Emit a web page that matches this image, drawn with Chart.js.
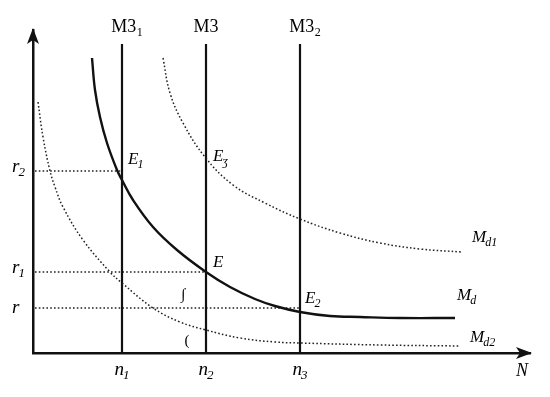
<!DOCTYPE html>
<html><head><meta charset="utf-8">
<script src="https://cdn.jsdelivr.net/npm/chart.js@4/dist/chart.umd.min.js"></script>
<style>html,body{margin:0;padding:0;background:#fff}canvas{display:block}</style>
</head><body>
<canvas id="c" width="550" height="397"></canvas>
<script>
// ---- data (diagram units) ----
const nValues = [8.9, 17.3, 26.7];            // n1, n2, n3
const nLabels = [['n','1'], ['n','2'], ['n','3']];
const rValues = [4.5, 8.1, 18.2];             // r, r1, r2
const rEnds   = [26.7, 17.3, 8.9];            // each rate line runs to its supply line
const rLabels = [['r',''], ['r','1'], ['r','2']];
const supplyTop = 30.9;
const supplyLabels = [['M3','1'], ['M3',''], ['M3','2']];

const mdX  = [5.9, 6.2, 6.7, 7.4, 8.4, 8.9, 10.0, 12.0, 14.4, 17.3, 19.7, 22.2, 24.2, 26.7, 29.7, 32.7, 36.7, 42.2];
const mdY  = [29.5, 26.3, 23.6, 21.0, 18.3, 17.3, 15.3, 12.6, 10.3, 8.1, 6.6, 5.4, 4.7, 4.1, 3.7, 3.6, 3.5, 3.5];
const md1X = [13.0, 13.7, 15.0, 17.2, 20.0, 23.2, 26.7, 30.7, 34.7, 38.7, 42.9];
const md1Y = [29.5, 26.0, 23.0, 19.6, 16.8, 15.0, 13.4, 12.0, 11.0, 10.4, 10.1];
const md2X = [0.5, 1.0, 1.7, 2.2, 3.0, 5.0, 7.7, 8.9, 12.0, 14.7, 17.3, 20.7, 24.2, 26.7, 34.7, 42.7];
const md2Y = [25.1, 21.6, 18.2, 16.6, 14.6, 11.3, 8.1, 7.0, 4.5, 3.1, 2.3, 1.5, 1.1, 1.0, 0.8, 0.7];
const curveLabels = [['M','d1'], ['M','d'], ['M','d2']];

const eqX = [8.9, 17.3, 26.7, 17.3];
const eqY = [17.3, 8.1, 4.1, 19.6];
const eqLabels = [['E','1'], ['E',''], ['E','2'], ['E','\u0292']];
const axisLabelX = 'N';

const xMax = 49.7, yMax = 32.3;

// ---- datasets ----
const pts = (xs, ys) => xs.map((x, i) => ({x, y: ys[i]}));
const datasets = [];
const DOT = [1.6, 2.2];
datasets.push({data: pts(mdX, mdY), borderColor: '#111', borderWidth: 2.4, tension: 0.4});
datasets.push({data: pts(md1X, md1Y), borderColor: '#222', borderWidth: 1.5, borderDash: DOT, tension: 0.4});
datasets.push({data: pts(md2X, md2Y), borderColor: '#222', borderWidth: 1.5, borderDash: DOT, tension: 0.4});
nValues.forEach(n => datasets.push({data: [{x: n, y: 0}, {x: n, y: supplyTop}], borderColor: '#111', borderWidth: 2.2, tension: 0}));
rValues.forEach((r, i) => datasets.push({data: [{x: 0.2, y: r}, {x: rEnds[i], y: r}], borderColor: '#222', borderWidth: 1.5, borderDash: DOT, tension: 0}));
datasets.forEach(d => { d.showLine = true; d.pointRadius = 0; d.fill = false; });

// ---- plugin: arrows + labels ----
const SERIF = '"Liberation Serif", "DejaVu Serif", serif';
function drawSub(ctx, base, sub, x, y, size, italic, align) {
  const f1 = (italic ? 'italic ' : '') + size + 'px ' + SERIF;
  const f2 = (italic ? 'italic ' : '') + Math.round(size * 0.68) + 'px ' + SERIF;
  const gap = italic ? -1 : 0.5;
  ctx.font = f1; const w1 = ctx.measureText(base).width;
  ctx.font = f2; const w2 = sub ? ctx.measureText(sub).width : 0;
  const w = w1 + (sub ? w2 + gap : 0);
  let sx = x;
  if (align === 'center') sx = x - w / 2; else if (align === 'right') sx = x - w;
  ctx.textAlign = 'left'; ctx.textBaseline = 'middle'; ctx.fillStyle = '#000';
  ctx.font = f1; ctx.fillText(base, sx, y);
  if (sub) { ctx.font = f2; ctx.fillText(sub, sx + w1 + gap, y + size * 0.3); }
}
const decor = {
  id: 'decor',
  afterDatasetsDraw(chart) {
    const {ctx, chartArea: a, scales: {x, y}} = chart;
    ctx.save();
    ctx.fillStyle = '#111';
    // x arrow
    ctx.beginPath();
    ctx.moveTo(a.right + 2, a.bottom);
    ctx.lineTo(a.right - 14, a.bottom - 6);
    ctx.lineTo(a.right - 10, a.bottom);
    ctx.lineTo(a.right - 14, a.bottom + 6);
    ctx.closePath(); ctx.fill();
    // y arrow
    ctx.beginPath();
    ctx.moveTo(a.left, a.top - 2);
    ctx.lineTo(a.left - 6, a.top + 14);
    ctx.lineTo(a.left, a.top + 10);
    ctx.lineTo(a.left + 6, a.top + 14);
    ctx.closePath(); ctx.fill();
    // x tick labels
    nValues.forEach((n, i) => drawSub(ctx, nLabels[i][0], nLabels[i][1], x.getPixelForValue(n), a.bottom + 17, 19, true, 'center'));
    // y tick labels
    rValues.forEach((r, i) => drawSub(ctx, rLabels[i][0], rLabels[i][1], a.left - 21, y.getPixelForValue(r) - (rLabels[i][1] ? 4 : 0), 19, true, 'left'));
    // supply labels
    nValues.forEach((n, i) => drawSub(ctx, supplyLabels[i][0], supplyLabels[i][1], x.getPixelForValue(n) + (supplyLabels[i][1] ? 5 : 0), y.getPixelForValue(supplyTop) - 17, 18, false, 'center'));
    // equilibrium labels
    const eqOff = [[6, -20], [7, -9], [5, -13], [7, 0]];
    eqX.forEach((ex, i) => drawSub(ctx, eqLabels[i][0], eqLabels[i][1], x.getPixelForValue(ex) + eqOff[i][0], y.getPixelForValue(eqY[i]) + eqOff[i][1], 17, true, 'left'));
    // curve labels
    const ends = [[md1X, md1Y], [mdX, mdY], [md2X, md2Y]];
    const offs = [[10, -14], [2, -22], [10, -8]];
    ends.forEach((e, i) => {
      const ex = e[0][e[0].length - 1], ey = e[1][e[1].length - 1];
      drawSub(ctx, curveLabels[i][0], curveLabels[i][1], x.getPixelForValue(ex) + offs[i][0], y.getPixelForValue(ey) + offs[i][1], 17, true, 'left');
    });
    // axis label
    drawSub(ctx, axisLabelX, '', a.right - 8, a.bottom + 18, 18, true, 'center');
    // small marks
    ctx.font = '15px ' + SERIF; ctx.textAlign = 'center'; ctx.textBaseline = 'middle'; ctx.fillStyle = '#000';
    ctx.fillText('\u222B', x.getPixelForValue(15.0), y.getPixelForValue(5.8));
    ctx.fillText('(', x.getPixelForValue(15.4), y.getPixelForValue(1.2));
    ctx.restore();
  }
};

new Chart(document.getElementById('c'), {
  type: 'scatter',
  data: {datasets},
  options: {
    responsive: false, animation: false,
    layout: {padding: {left: 33, top: 30, right: 20, bottom: 44}},
    plugins: {legend: {display: false}, tooltip: {enabled: false}},
    scales: {
      x: {type: 'linear', min: 0, max: xMax, grid: {display: false, drawTicks: false}, ticks: {display: false}, border: {display: true, color: '#111', width: 2.5}},
      y: {type: 'linear', min: 0, max: yMax, grid: {display: false, drawTicks: false}, ticks: {display: false}, border: {display: true, color: '#111', width: 2.5}}
    }
  },
  plugins: [decor]
});
</script>
</body></html>
